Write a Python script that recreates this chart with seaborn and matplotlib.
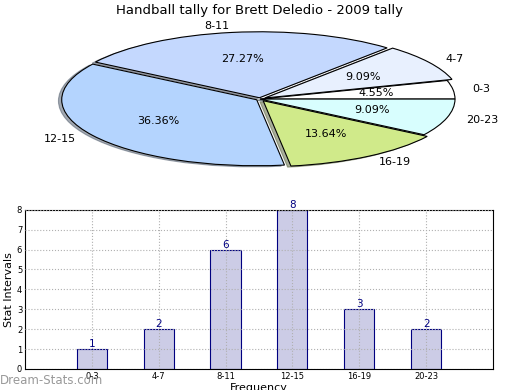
import matplotlib
matplotlib.use("Agg")
import matplotlib.pyplot as plt
import seaborn as sns
import pandas as pd

sns.set_style("white")
plt.rcParams['font.family'] = ['DejaVu Sans']
plt.rcParams['text.color'] = 'black'
plt.rcParams['axes.labelcolor'] = 'black'
plt.rcParams['xtick.color'] = 'black'
plt.rcParams['ytick.color'] = 'black'

# data
intervals = ["0-3", "4-7", "8-11", "12-15", "16-19", "20-23"]
counts = [1, 2, 6, 8, 3, 2]
pie_colors = ["#ffffff", "#e8f0fe", "#c4d8fe", "#b4d4fe", "#d0ea8a", "#d8fefe"]
explode = [0.0, 0.03, 0.02, 0.02, 0.03, 0.0]

df = pd.DataFrame({"interval": intervals, "count": counts})

fig = plt.figure(figsize=(5.2, 3.9), dpi=100)

# pie on top, squashed into an ellipse
ax1 = fig.add_axes([0.05, 0.543, 0.9, 0.406])
ax1.pie(df["count"], labels=df["interval"], colors=pie_colors, explode=explode,
        autopct="%.2f%%", shadow={"ox": -0.012, "oy": -0.012, "shade": 0.6},
        startangle=0,
        wedgeprops={"edgecolor": "black", "linewidth": 0.8},
        textprops={"fontsize": 8})
ax1.set_aspect("auto")
ax1.set_xlim(-1.2, 1.2)
ax1.set_ylim(-1.2, 1.2)
fig.text(0.5, 0.974, "Handball tally for Brett Deledio - 2009 tally",
         ha="center", va="center", fontsize=9.5)

# bars below
ax2 = fig.add_axes([0.048, 0.054, 0.9, 0.408])
sns.barplot(data=df, x="interval", y="count", ax=ax2, color="#ccccE6",
            edgecolor="navy", linewidth=0.8, width=0.45, saturation=1)
for i, c in enumerate(counts):
    ax2.text(i, c, str(c), ha="center", va="bottom", color="navy", fontsize=7.5)
ax2.set_xlim(-1, 6)
ax2.set_ylim(0, 8)
ax2.set_yticks(range(0, 9))
ax2.grid(True, linestyle=":", color="#b0b0b0", linewidth=0.8)
ax2.set_axisbelow(False)
ax2.tick_params(labelsize=6, direction="in", length=3, pad=2)
ax2.set_ylabel("Stat Intervals", fontsize=8, labelpad=2)
ax2.set_xlabel("Frequency", fontsize=8, labelpad=2)
for s in ax2.spines.values():
    s.set_visible(True)
    s.set_color("black")
    s.set_linewidth(0.8)

fig.text(0.0, 0.025, "Dream-Stats.com", color="#999999", fontsize=8.5,
         ha="left", va="center")

fig.savefig("out.png", dpi=100)
